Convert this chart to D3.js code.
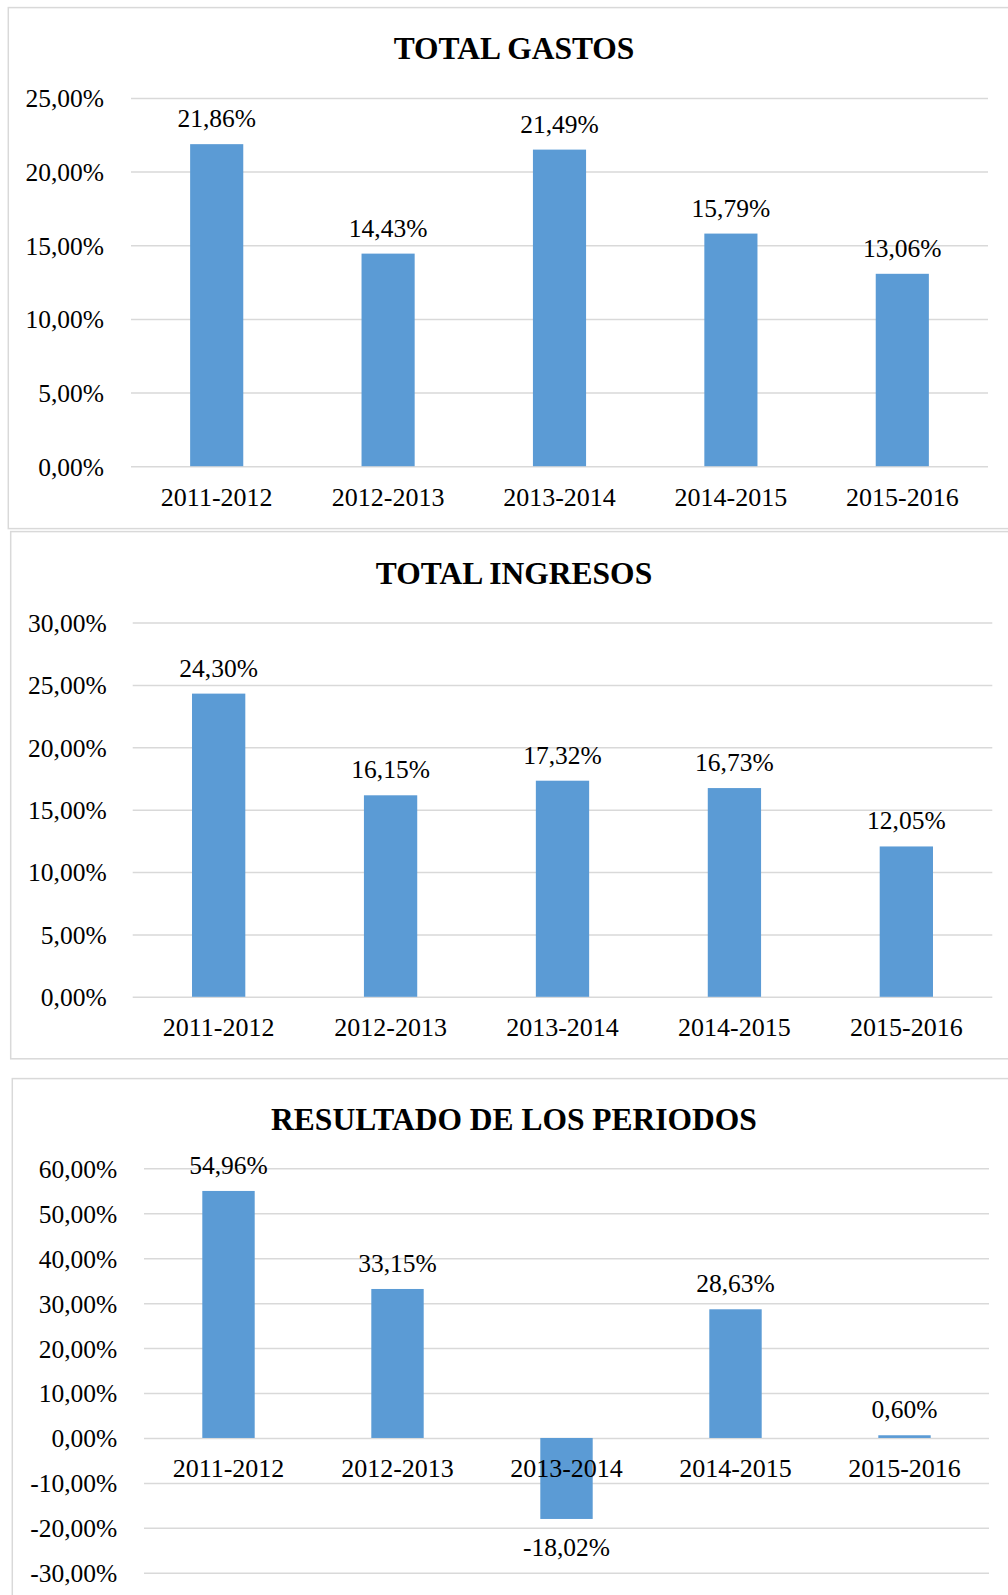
<!DOCTYPE html>
<html>
<head>
<meta charset="utf-8">
<script src="https://cdn.jsdelivr.net/npm/d3@7"></script>
<style>
  body { margin: 0; background: white; }
  text { font-family: "Liberation Serif", "Times New Roman", serif; fill: #000; }
  .titulo { font-weight: bold; font-size: 31.5px; }
  .eje text { font-size: 25.5px; }
  .cat text { font-size: 26px; }
  .etiqueta { font-size: 25.5px; }
  .grid line { stroke: #d9d9d9; stroke-width: 1.5; }
  .panel { fill: white; stroke: #d9d9d9; stroke-width: 1.5; }
  .bar { fill: #5b9bd5; }
</style>
</head>
<body>
<svg id="plot"></svg>
<script>
const width = 1008;
const height = 1595;

// datos
const periodos = ["2011-2012", "2012-2013", "2013-2014", "2014-2015", "2015-2016"];
const gastos = [21.86, 14.43, 21.49, 15.79, 13.06];
const ingresos = [24.30, 16.15, 17.32, 16.73, 12.05];
const resultado = [54.96, 33.15, -18.02, 28.63, 0.60];

const ticksGastos = [0, 5, 10, 15, 20, 25];
const ticksIngresos = [0, 5, 10, 15, 20, 25, 30];
const ticksResultado = [-30, -20, -10, 0, 10, 20, 30, 40, 50, 60];

// coma decimal y guion normal para negativos
const locale = d3.formatLocale({decimal: ",", thousands: ".", grouping: [3], currency: ["", "€"], minus: "-"});
const fmt = (v) => locale.format(".2f")(v) + "%";

const plot = d3.select("#plot")
    .attr("width", width)
    .attr("height", height);

// cada panel: caja, area del grafico y posiciones de textos
const paneles = [
  {titulo: "TOTAL GASTOS", valores: gastos, ticks: ticksGastos,
   caja: [8.3, 7.6, 1040, 521], izq: 131, der: 988, arriba: 97.9, abajo: 466.2,
   tituloY: 58.5, etiquetaX: 104},
  {titulo: "TOTAL INGRESOS", valores: ingresos, ticks: ticksIngresos,
   caja: [10.7, 531.6, 1040, 527.2], izq: 132.7, der: 992.3, arriba: 622.5, abajo: 996.8,
   tituloY: 583.7, etiquetaX: 106.7},
  {titulo: "RESULTADO DE LOS PERIODOS", valores: resultado, ticks: ticksResultado,
   caja: [12.3, 1078.6, 1040, 560], izq: 144, der: 989, arriba: 1168.3, abajo: 1572.8,
   tituloY: 1130, etiquetaX: 117.3}
];

paneles.forEach((p) => render(p));

function render(p) {
  const g = plot.append("g");

  g.append("rect")
    .attr("class", "panel")
    .attr("x", p.caja[0])
    .attr("y", p.caja[1])
    .attr("width", p.caja[2])
    .attr("height", p.caja[3]);

  const xScale = d3.scaleBand()
    .domain(periodos)
    .range([p.izq, p.der])
    .paddingInner(0.69)
    .paddingOuter(0.345);

  const yScale = d3.scaleLinear()
    .domain(d3.extent(p.ticks))
    .range([p.abajo, p.arriba]);

  // titulo
  g.append("text")
    .attr("class", "titulo")
    .attr("x", 514)
    .attr("y", p.tituloY)
    .attr("text-anchor", "middle")
    .text(p.titulo);

  // eje y con lineas de cuadricula
  const ejeY = g.append("g")
    .attr("class", "eje grid")
    .attr("transform", "translate(" + p.izq + ",0)")
    .call(d3.axisLeft(yScale)
      .tickValues(p.ticks)
      .tickSize(-(p.der - p.izq))
      .tickPadding(p.izq - p.etiquetaX)
      .tickFormat(fmt));
  ejeY.select(".domain").remove();
  ejeY.selectAll("text").attr("dy", "0.35em");

  const datos = periodos.map((c, i) => ({cat: c, v: p.valores[i]}));

  // barras
  g.selectAll("rect.bar")
    .data(datos)
    .enter()
    .append("rect")
    .attr("class", "bar")
    .attr("x", (d) => xScale(d.cat))
    .attr("width", xScale.bandwidth())
    .attr("y", (d) => yScale(Math.max(0, d.v)))
    .attr("height", (d) => Math.abs(yScale(d.v) - yScale(0)));

  // etiquetas de valor
  g.selectAll("text.etiqueta")
    .data(datos)
    .enter()
    .append("text")
    .attr("class", "etiqueta")
    .attr("x", (d) => xScale(d.cat) + xScale.bandwidth() / 2)
    .attr("y", (d) => d.v >= 0 ? yScale(d.v) - 17 : yScale(d.v) + 37.5)
    .attr("text-anchor", "middle")
    .text((d) => fmt(d.v));

  // categorias, encima de las barras
  const ejeX = g.append("g")
    .attr("class", "cat")
    .attr("transform", "translate(0," + yScale(0) + ")")
    .call(d3.axisBottom(xScale).tickSize(0).tickPadding(21));
  ejeX.select(".domain").remove();
}
</script>
</body>
</html>
